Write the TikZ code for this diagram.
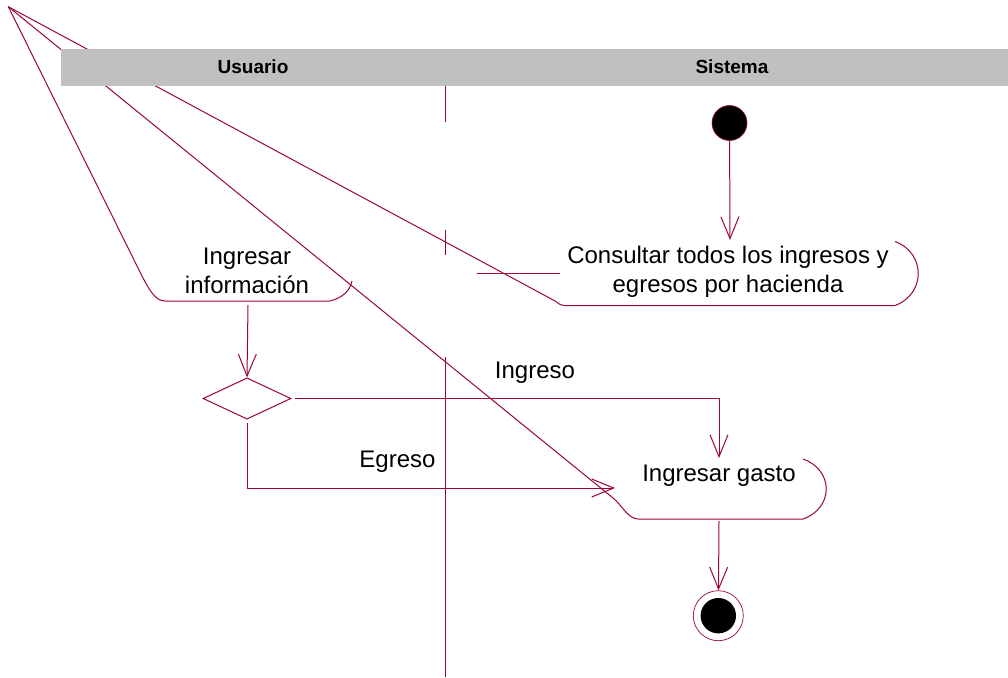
\documentclass[tikz,border=0pt]{standalone}
\usepackage{fontspec}
\setmainfont{Liberation Sans}
\usetikzlibrary{arrows.meta, shapes.geometric}
\definecolor{umlred}{RGB}{155,5,60}
\definecolor{lanegray}{RGB}{192,192,192}

\begin{document}
\begin{tikzpicture}[
      x=1pt, y=-1pt,
      edge/.style={draw=umlred, line width=1pt},
      flow/.style={edge, -{Straight Barb[length=22pt, width=18pt]}},
      act/.style={font=\fontsize{24}{29}\selectfont, align=center, inner sep=0pt},
      lbl/.style={font=\fontsize{24}{29}\selectfont, inner sep=0pt, anchor=base},
      lanelabel/.style={font=\fontsize{19}{22}\selectfont\bfseries, inner sep=0pt, anchor=base}
  ]
      \useasboundingbox (0,0) rectangle (1008,677);

      % Anchor points
      \coordinate (apex) at (8.3,6.7);
      \coordinate (consulta-in) at (730,240);
      \coordinate (info-out) at (248,305);
      \coordinate (gasto-in) at (719,458);
      \coordinate (gasto-left) at (615,488);
      \coordinate (gasto-out) at (719,521);

      % Activity outlines
      \draw[edge] (apex) -- (143,278) .. controls (149,289) and (155,301) .. (165,301)
          -- (330,301) .. controls (342,298) and (350,291) .. (352,281);
      \draw[edge] (apex) -- (556,301.5) .. controls (559,304) and (561,305.5) .. (564,305.5)
          -- (895,305.5) .. controls (926,294) and (926,253) .. (895,241.5);
      \draw[edge] (apex) -- (613,498) .. controls (621,504) and (628,519) .. (638,519)
          -- (803,519) .. controls (834,508) and (834,470) .. (803,459);

      % Lane divider
      \draw[edge] (445,86) -- (445,122);
      \draw[edge] (445,230) -- (445,255);
      \draw[edge] (445,356.7) -- (445,677);
      \draw[edge] (477,273) -- (560,273);

      % Lane header
      \fill[lanegray] (61,49) rectangle (1008,86);
      \node[lanelabel] (usuario) at (253,74) {Usuario};
      \node[lanelabel] (sistema) at (732,74) {Sistema};

      % Activities
      \node[act] (info) at (247,270.5) {Ingresar\\información};
      \node[act] (consulta) at (728,271.6) {Consultar todos los ingresos y\\egresos por hacienda};
      \node[lbl] (gasto) at (719,481) {Ingresar gasto};

      % Start, decision, end
      \node[circle, fill=black, draw=umlred, line width=0.6pt, minimum size=35pt, inner sep=0pt] (start) at (729.5,123) {};
      \node[diamond, edge, fill=white, minimum width=88pt, minimum height=41.3pt, inner sep=0pt] (dec) at (247,398.5) {};
      \node[circle, edge, line width=0.7pt, minimum size=50pt, inner sep=0pt] (end) at (718.3,615.7) {};
      \node[circle, fill=black, minimum size=35.4pt, inner sep=0pt] (endin) at (end.center) {};

      % Guard labels
      \node[lbl] (ingreso) at (535,378) {Ingreso};
      \node[lbl] (egreso) at (397.5,467) {Egreso};

      % Arrows
      \draw[flow] (start) -- (consulta-in);
      \draw[flow] (info-out) -- (dec.north);
      \draw[flow] ([xshift=3pt]dec.east) -| (gasto-in);
      \draw[flow] ([yshift=-3pt]dec.south) |- (gasto-left);
      \draw[flow] (gasto-out) -- (end);
  \end{tikzpicture}
\end{document}
